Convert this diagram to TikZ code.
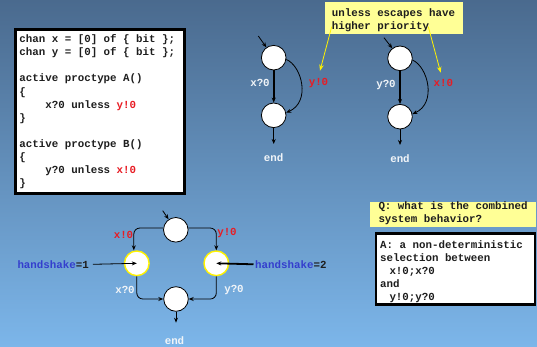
\documentclass[tikz,border=0pt]{standalone}
\usepackage{fontspec}
\setmonofont{Liberation Mono}
\usetikzlibrary{arrows.meta}
\definecolor{bgtop}{RGB}{74,106,142}
\definecolor{bgbot}{RGB}{124,182,234}
\definecolor{notefill}{RGB}{255,255,150}
\definecolor{hred}{RGB}{232,28,36}
\definecolor{hblue}{RGB}{52,62,205}
\definecolor{lab}{RGB}{240,244,248}
\definecolor{ink}{RGB}{30,30,30}
\newcommand{\topstrut}{\rule{0pt}{9pt}}
\begin{document}
\begin{tikzpicture}[x=1pt,y=-1pt,
  every node/.style={font=\ttfamily\bfseries\fontsize{10.8}{13.1}\selectfont, inner sep=0pt, text=ink},
  state/.style={circle, draw=black, fill=white, minimum size=24.6pt, line width=0.8pt},
  hstate/.style={state, draw=yellow, line width=1.4pt},
  tr/.style={-{Stealth[length=5pt,width=4pt]}, line width=0.8pt, draw=black},
  ttr/.style={tr, line width=1.8pt},
  ytr/.style={-{Stealth[length=6pt,width=4.5pt]}, line width=0.8pt, draw=yellow},
  lbl/.style={text=lab},
  esc/.style={text=hred},
  frame/.style={draw=black, fill=white, line width=2.5pt, anchor=north west},
  notebox/.style={fill=notefill, anchor=north west},
  lines/.style={anchor=north west, align=left}
]
\useasboundingbox (0,0) rectangle (537,347);
\shade[top color=bgtop, bottom color=bgbot] (0,0) rectangle (537,347);

% --- Promela source ---
\node[frame, minimum width=169pt, minimum height=164pt] (codebox) at (14.2,28.2) {};
\node[lines] (code) at (19.3,33.5) {%
\topstrut chan x = [0] of \{ bit \};\\
chan y = [0] of \{ bit \};\\[13.1pt]
active proctype A()\\
\{\\
\hphantom{xxxx}x?0 unless \textcolor{hred}{y!0}\\
\}\\[13.1pt]
active proctype B()\\
\{\\
\hphantom{xxxx}y?0 unless \textcolor{hred}{x!0}\\
\}};

% --- note on priority ---
\node[notebox, minimum width=137.7pt, minimum height=32.6pt] (note) at (325,1.7) {};
\node[lines] (notetext) at (331.7,7.8) {\topstrut unless escapes have\\[-0.7pt]higher priority};

% --- process A ---
\node[state] (a1) at (273.7,57.7) {};
\node[state] (a2) at (273.7,115.3) {};
\coordinate (a0) at (258.3,36);
\coordinate (aend) at (273.7,144);
\draw[tr] (a0) -- (a1);
\draw[ttr] (a1) -- (a2);
\draw[tr] (a1.-8) .. controls (302,66) and (311,102) .. (a2.12);
\draw[tr] (a2) -- (aend);
\node[lbl] (ax) at (260,83.3) {x?0};
\node[esc] (ay) at (318.5,82.7) {y!0};
\node[lbl] (aendl) at (273.7,157.3) {end};

% --- process B ---
\node[state] (b1) at (400,58.3) {};
\node[state] (b2) at (400,116.7) {};
\coordinate (b0) at (384,37.7);
\coordinate (bend) at (400,145);
\draw[tr] (b0) -- (b1);
\draw[ttr] (b1) -- (b2);
\draw[tr] (b1.-8) .. controls (428,67) and (437,103) .. (b2.12);
\draw[tr] (b2) -- (bend);
\node[lbl] (by) at (386,85) {y?0};
\node[esc] (bx) at (443.3,83.3) {x!0};
\node[lbl] (bendl) at (400,159) {end};

% --- pointers from the note ---
\coordinate (n1) at (331.7,26.7);
\coordinate (n2) at (428.3,26.7);
\draw[ytr] (n1) -- (320,70.7);
\draw[ytr] (n2) -- (440.7,72.7);

% --- combined system ---
\node[state] (c0) at (175.8,229.8) {};
\node[hstate] (c1) at (136.8,263.3) {};
\node[hstate] (c2) at (216.3,263.3) {};
\node[state] (c3) at (176,299) {};
\coordinate (c00) at (162.7,210.7);
\coordinate (cend) at (176,322.7);
\draw[tr] (c00) -- (c0);
\draw[tr, rounded corners=6pt] (c0.172) -| ([xshift=-3pt]c1.north);
\draw[tr, rounded corners=6pt] (c0.8) -| (c2.north);
\draw[tr, rounded corners=6pt] (c1.south) |- (c3.west);
\draw[tr, rounded corners=6pt] (c2.south) |- (c3.east);
\draw[tr] (c3) -- (cend);
\node[esc] (cx) at (123.5,234.5) {x!0};
\node[esc] (cy) at (227,233.5) {y!0};
\node[lbl] (cxr) at (125,290) {x?0};
\node[lbl] (cyr) at (234,290) {y?0};
\node[lbl] (cendl) at (174.5,340.7) {end};
\node[anchor=west] (hs1) at (17.3,264.3) {\textcolor{hblue}{handshake}=1};
\node[anchor=west] (hs2) at (255,264.3) {\textcolor{hblue}{handshake}=2};
\draw[tr] ([xshift=4pt]hs1.east) -- (c1.center);
\draw[ttr] ([xshift=-1.5pt]hs2.west) -- (c2.center);

% --- question and answer ---
\node[notebox, minimum width=166pt, minimum height=25pt] (qbox) at (370,201.7) {};
\node[lines] (q) at (378.3,200.5) {\topstrut Q: what is the combined\\[-0.7pt]system behavior?};
\node[frame, minimum width=159pt, minimum height=71pt] (abox) at (374.5,232.2) {};
\node[lines] (a) at (380,238.8) {%
\topstrut A: a non-deterministic\\
selection between\\
\hspace*{9.3pt}x!0;x?0\\
and\\
\hspace*{9.3pt}y!0;y?0};
\end{tikzpicture}
\end{document}
